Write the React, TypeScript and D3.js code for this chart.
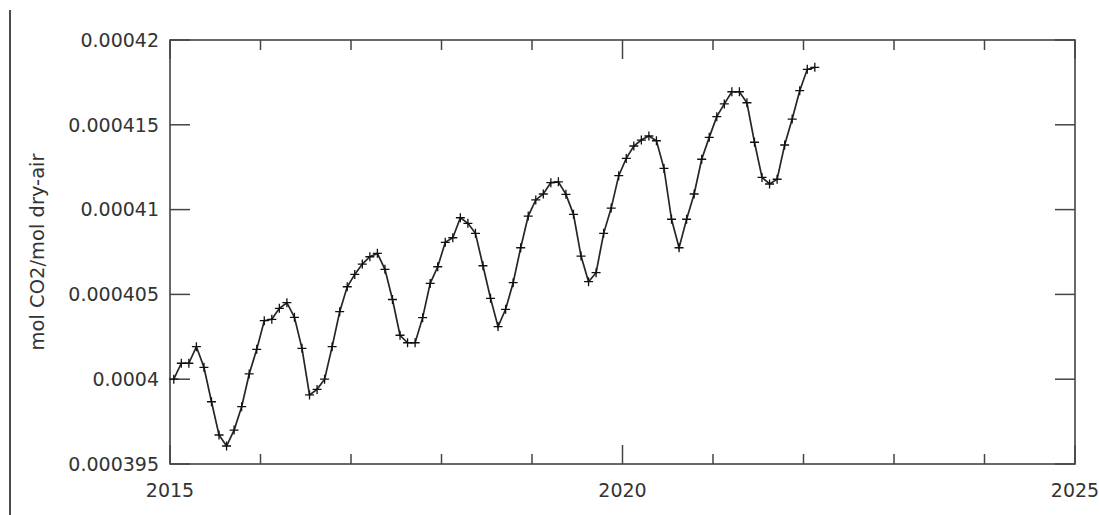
import * as d3 from 'd3'

// monthly mean CO2 (ppm), Jan 2015 .. Feb 2022
const co2Ppm = [
  400.0, 400.94, 400.94, 401.92, 400.7, 398.67, 396.71, 396.06, 397.0, 398.38, 400.31, 401.76,
  403.45, 403.53, 404.18, 404.51, 403.65, 401.82, 399.07, 399.4, 400.0, 401.92, 403.98, 405.45,
  406.18, 406.79, 407.22, 407.42, 406.48, 404.7, 402.59, 402.15, 402.15, 403.63, 405.65, 406.63,
  408.07, 408.34, 409.52, 409.19, 408.6, 406.69, 404.77, 403.1, 404.12, 405.69, 407.75, 409.62,
  410.57, 410.92, 411.59, 411.64, 410.9, 409.72, 407.26, 405.75, 406.28, 408.6, 410.09, 412.0,
  413.02, 413.75, 414.1, 414.34, 414.06, 412.43, 409.43, 407.75, 409.43, 410.92, 412.97, 414.26,
  415.48, 416.23, 416.95, 416.95, 416.3, 413.97, 411.9, 411.51, 411.79, 413.81, 415.34, 417.01,
  418.27, 418.39,
]
const startYear = 2015

const yTicks = [0.000395, 0.0004, 0.000405, 0.00041, 0.000415, 0.00042]
const yTickLabels = ['0.000395', '0.0004', '0.000405', '0.00041', '0.000415', '0.00042']
const xMajor = [2015, 2020, 2025]
const xMinor = [2016, 2017, 2018, 2019, 2021, 2022, 2023, 2024]
const yLabel = 'mol CO2/mol dry-air'

const width = 1099
const height = 515
const margin = { top: 40, right: 24, bottom: 51, left: 170 }
const font = '"DejaVu Sans", sans-serif'

export default function App() {
  const x = d3.scaleLinear().domain([2015, 2025]).range([margin.left, width - margin.right])
  const y = d3.scaleLinear().domain([0.000395, 0.00042]).range([height - margin.bottom, margin.top])

  const data = co2Ppm.map((v, i) => ({ t: startYear + (i + 0.5) / 12, v: v * 1e-6 }))

  const line = d3.line<{ t: number; v: number }>()
    .x(d => x(d.t))
    .y(d => y(d.v))

  const x0 = x.range()[0]
  const x1 = x.range()[1]
  const y0 = y.range()[0]
  const y1 = y.range()[1]
  const axisColor = '#444'
  const textColor = '#333'
  const m = 4.5

  return (
    <svg width={width} height={height} style={{ position: 'absolute', left: 0, top: 0, background: '#fff' }}>
      <line x1={10} x2={10} y1={10} y2={height} stroke="#111" strokeWidth={1.5} />

      {/* frame */}
      <rect x={x0} y={y1} width={x1 - x0} height={y0 - y1} fill="none" stroke={axisColor} strokeWidth={1.6} />

      {/* x ticks */}
      {xMajor.map(t => (
        <g key={'M' + t}>
          <line x1={x(t)} x2={x(t)} y1={y0} y2={y0 - 19} stroke={axisColor} strokeWidth={1.5} />
          <line x1={x(t)} x2={x(t)} y1={y1} y2={y1 + 19} stroke={axisColor} strokeWidth={1.5} />
          <text x={x(t)} y={y0 + 33} textAnchor="middle" fontFamily={font} fontSize={19} fill={textColor}>{t}</text>
        </g>
      ))}
      {xMinor.map(t => (
        <g key={'m' + t}>
          <line x1={x(t)} x2={x(t)} y1={y0} y2={y0 - 10} stroke={axisColor} strokeWidth={1.5} />
          <line x1={x(t)} x2={x(t)} y1={y1} y2={y1 + 10} stroke={axisColor} strokeWidth={1.5} />
        </g>
      ))}

      {/* y ticks */}
      {yTicks.map((v, i) => (
        <g key={'y' + i}>
          <line x1={x0} x2={x0 + 20} y1={y(v)} y2={y(v)} stroke={axisColor} strokeWidth={1.5} />
          <line x1={x1} x2={x1 - 20} y1={y(v)} y2={y(v)} stroke={axisColor} strokeWidth={1.5} />
          <text x={x0 - 11} y={y(v)} dy="0.36em" textAnchor="end" fontFamily={font} fontSize={19} fill={textColor}>{yTickLabels[i]}</text>
        </g>
      ))}

      <text
        transform={`translate(44,252) rotate(-90)`}
        textAnchor="middle"
        fontFamily={font}
        fontSize={19.5}
        fill={textColor}
      >{yLabel}</text>

      {/* series */}
      <path d={line(data) ?? ''} fill="none" stroke="#262626" strokeWidth={1.7} />
      {data.map((d, i) => (
        <path
          key={i}
          d={`M${x(d.t) - m},${y(d.v)}H${x(d.t) + m}M${x(d.t)},${y(d.v) - m}V${y(d.v) + m}`}
          stroke="#111"
          strokeWidth={1.3}
          fill="none"
        />
      ))}
    </svg>
  )
}
